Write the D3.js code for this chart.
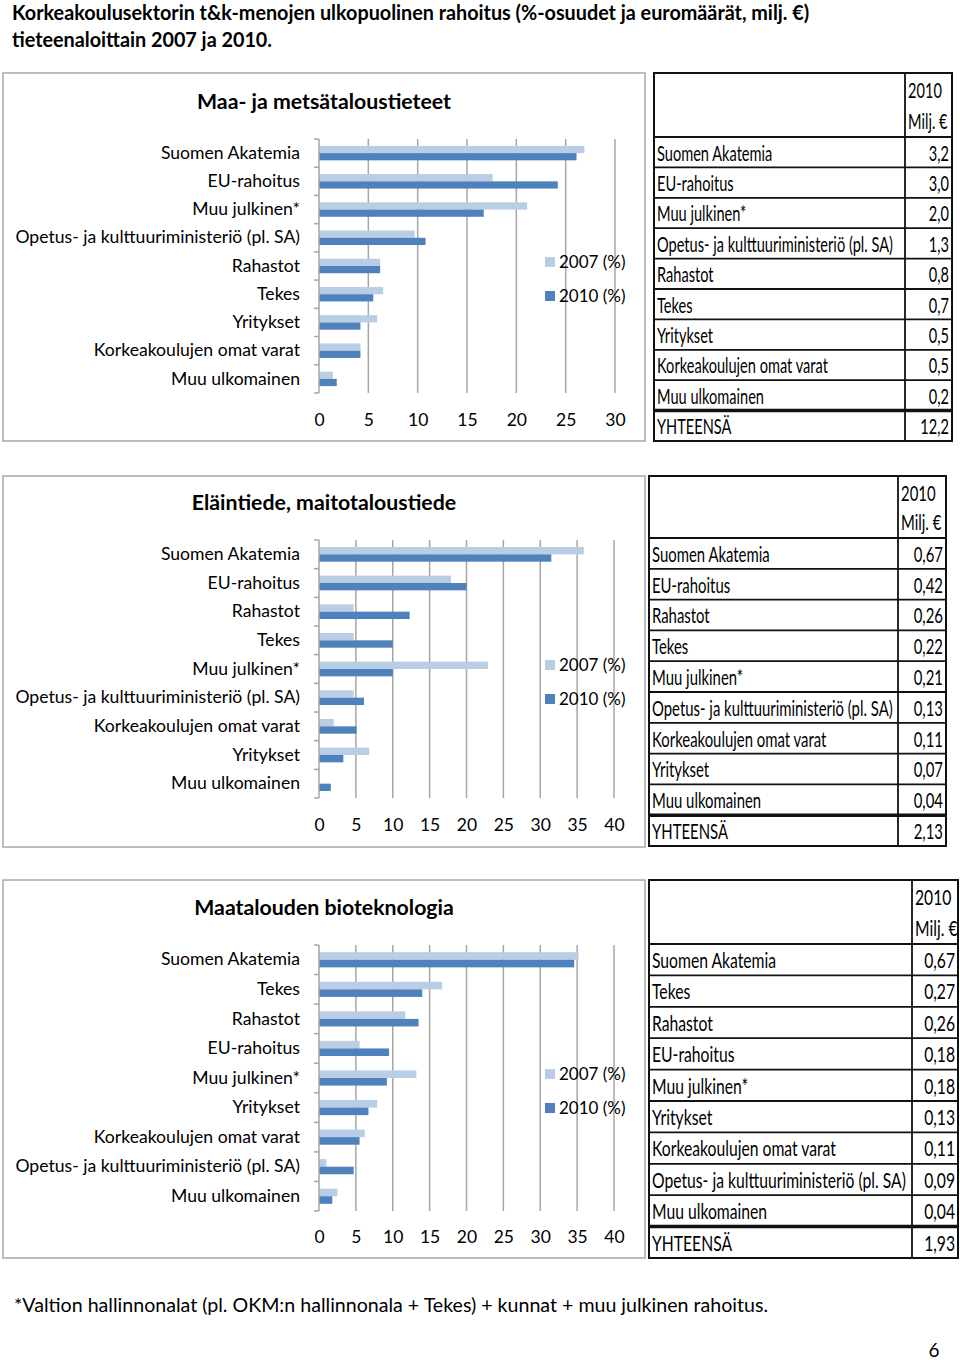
<!DOCTYPE html>
<html><head><meta charset="utf-8">
<script src="https://cdn.jsdelivr.net/npm/d3@7"></script>
<style>
body{margin:0;background:#fff;}
svg{display:block;}
</style></head>
<body>
<script>
// ---------- DATA ----------
const pageTitle1 = "Korkeakoulusektorin t&k-menojen ulkopuolinen rahoitus (%-osuudet ja euromäärät, milj. €)";
const pageTitle2 = "tieteenaloittain 2007 ja 2010.";
const footnote = "*Valtion hallinnonalat (pl. OKM:n hallinnonala + Tekes) + kunnat + muu julkinen rahoitus.";
const pageNumber = "6";
const seriesNames = ["2007 (%)", "2010 (%)"];
const tableHeader = ["2010", "Milj. €"];
const totalLabel = "YHTEENSÄ";

const title1 = "Maa- ja metsätaloustieteet";
const cats1 = ["Suomen Akatemia","EU-rahoitus","Muu julkinen*","Opetus- ja kulttuuriministeriö (pl. SA)","Rahastot","Tekes","Yritykset","Korkeakoulujen omat varat","Muu ulkomainen"];
const p2007_1 = [26.9, 17.6, 21.1, 9.7, 6.2, 6.5, 5.9, 4.2, 1.4];
const p2010_1 = [26.1, 24.2, 16.7, 10.8, 6.2, 5.5, 4.2, 4.2, 1.8];
const milj_1 = [3.2, 3.0, 2.0, 1.3, 0.8, 0.7, 0.5, 0.5, 0.2];
const total_1 = 12.2;
const ticks_1 = [0, 5, 10, 15, 20, 25, 30];

const title2 = "Eläintiede, maitotaloustiede";
const cats2 = ["Suomen Akatemia","EU-rahoitus","Rahastot","Tekes","Muu julkinen*","Opetus- ja kulttuuriministeriö (pl. SA)","Korkeakoulujen omat varat","Yritykset","Muu ulkomainen"];
const p2007_2 = [35.9, 17.9, 4.7, 4.7, 22.9, 4.7, 2.0, 6.8, 0];
const p2010_2 = [31.5, 20.0, 12.3, 10.0, 10.0, 6.1, 5.1, 3.3, 1.6];
const milj_2 = [0.67, 0.42, 0.26, 0.22, 0.21, 0.13, 0.11, 0.07, 0.04];
const total_2 = 2.13;
const ticks_2 = [0, 5, 10, 15, 20, 25, 30, 35, 40];

const title3 = "Maatalouden bioteknologia";
const cats3 = ["Suomen Akatemia","Tekes","Rahastot","EU-rahoitus","Muu julkinen*","Yritykset","Korkeakoulujen omat varat","Opetus- ja kulttuuriministeriö (pl. SA)","Muu ulkomainen"];
const p2007_3 = [35.2, 16.7, 11.7, 5.5, 13.2, 7.9, 6.2, 1.0, 2.5];
const p2010_3 = [34.6, 14.0, 13.5, 9.5, 9.2, 6.7, 5.5, 4.7, 1.8];
const milj_3 = [0.67, 0.27, 0.26, 0.18, 0.18, 0.13, 0.11, 0.09, 0.04];
const total_3 = 1.93;
const ticks_3 = [0, 5, 10, 15, 20, 25, 30, 35, 40];

// ---------- STYLE / LAYOUT ----------
const C2007 = "#b9cde5", C2010 = "#4f81bd", GRID = "#a6a6a6";
const FONT = "Lato, 'Open Sans', sans-serif";
const TFONT = "Lato, 'Open Sans', sans-serif";
const loc = d3.formatLocale({decimal: ",", thousands: " ", grouping: [3], currency: ["", "€"]});

const panels = [
  {title: title1, cats: cats1, a: p2007_1, b: p2010_1, milj: milj_1, total: total_1, ticks: ticks_1, fmt: loc.format(".1f"),
   box: [3, 73, 642, 368], plot: [319, 615, 139, 393], titleY: 102, axisY: 418, legY: 262,
   table: [654, 73, 298, 368], divX: 905, headH: 64, fitGap: 12},
  {title: title2, cats: cats2, a: p2007_2, b: p2010_2, milj: milj_2, total: total_2, ticks: ticks_2, fmt: loc.format(".2f"),
   box: [3, 476, 642, 371], plot: [319, 614, 540, 798], titleY: 503, axisY: 823, legY: 665,
   table: [649, 476, 297, 370], divX: 898, headH: 62, fitGap: 5},
  {title: title3, cats: cats3, a: p2007_3, b: p2010_3, milj: milj_3, total: total_3, ticks: ticks_3, fmt: loc.format(".2f"),
   box: [3, 880, 642, 378], plot: [319, 614, 945, 1211], titleY: 908, axisY: 1235, legY: 1074,
   table: [649, 880, 309, 378], divX: 912, headH: 64, fitGap: 6}
];

const svg = d3.select("body").append("svg").attr("width", 960).attr("height", 1360);

// condensed text helper: draws text at (x,y) squeezed horizontally by factor s
function ctext(parent, x, y, str, size, s, anchor, bold) {
  const t = parent.append("text").attr("transform", `translate(${x},${y}) scale(${s},1)`)
    .attr("dy", "0.35em").attr("font-family", TFONT).attr("font-size", size)
    .attr("text-anchor", anchor || "start").text(str);
  if (bold) t.attr("font-weight", "bold");
  return t;
}

// page title (condensed bold)
{
  const t1 = ctext(svg, 12, 13, pageTitle1, 20, 1, "start", true);
  const s = 798 / t1.node().getComputedTextLength();
  t1.attr("transform", `translate(12,13) scale(${s},1)`);
  ctext(svg, 12, 40, pageTitle2, 20, s, "start", true);
}

panels.forEach(p => {
  const g = svg.append("g");
  const [bx, by, bw, bh] = p.box;
  g.append("rect").attr("x", bx).attr("y", by).attr("width", bw).attr("height", bh)
    .attr("fill", "#fff").attr("stroke", "#a9a9a9").attr("stroke-width", 1.5);

  const [x0, x1, y0, y1] = p.plot;
  const x = d3.scaleLinear().domain([0, d3.max(p.ticks)]).range([x0, x1]);
  const y = d3.scaleBand().domain(p.cats).range([y0, y1]);
  const inner = d3.scaleBand().domain(seriesNames).range([0, y.bandwidth()]).paddingOuter(0.95);

  // gridlines
  g.append("g").selectAll("line").data(p.ticks.filter(t => t > 0)).join("line")
    .attr("x1", d => x(d)).attr("x2", d => x(d)).attr("y1", y0).attr("y2", y1)
    .attr("stroke", GRID).attr("stroke-width", 1.5);

  // bars
  const rows = p.cats.map((c, i) => ({c, v: [p.a[i], p.b[i]]}));
  const rg = g.append("g").selectAll("g").data(rows).join("g")
    .attr("transform", d => `translate(0,${y(d.c)})`);
  rg.selectAll("rect").data(d => d.v.map((v, j) => ({s: seriesNames[j], v}))).join("rect")
    .attr("x", x(0)).attr("y", d => inner(d.s)).attr("height", inner.bandwidth())
    .attr("width", d => x(d.v) - x(0)).attr("fill", (d, j) => j === 0 ? C2007 : C2010);

  // left axis line and boundary ticks
  g.append("line").attr("x1", x0).attr("x2", x0).attr("y1", y0).attr("y2", y1)
    .attr("stroke", GRID).attr("stroke-width", 1.5);
  const bounds = p.cats.map(c => y(c)).concat([y1]);
  g.append("g").selectAll("line").data(bounds).join("line")
    .attr("x1", x0 - 5).attr("x2", x0).attr("y1", d => d).attr("y2", d => d)
    .attr("stroke", GRID).attr("stroke-width", 1.5);

  // category labels
  const ya = g.append("g").attr("transform", `translate(${x0},0)`)
    .call(d3.axisLeft(y).tickSize(0).tickPadding(19));
  ya.select(".domain").remove();
  ya.selectAll("text").attr("font-family", FONT).attr("font-size", 17.6).attr("fill", "#000");

  // x tick labels
  const xa = g.append("g").attr("transform", `translate(0,${p.axisY - 9})`)
    .call(d3.axisBottom(x).tickValues(p.ticks).tickSize(0).tickPadding(0));
  xa.select(".domain").remove();
  xa.selectAll("text").attr("font-family", FONT).attr("font-size", 17.5).attr("fill", "#000").attr("dy", "0.95em");

  // title
  g.append("text").attr("x", 324).attr("y", p.titleY).attr("dy", "0.35em").attr("text-anchor", "middle")
    .attr("font-family", FONT).attr("font-weight", "bold").attr("font-size", 21.3).text(p.title);

  // legend
  seriesNames.forEach((s, j) => {
    const ly = p.legY + j * 34;
    g.append("rect").attr("x", 545).attr("y", ly - 5).attr("width", 10).attr("height", 10)
      .attr("fill", j === 0 ? C2007 : C2010);
    g.append("text").attr("x", 559).attr("y", ly).attr("dy", "0.35em")
      .attr("font-family", FONT).attr("font-size", 17).text(s);
  });

  // table
  const [tx, ty, tw, th] = p.table;
  const tg = svg.append("g");
  const trows = p.cats.map((c, i) => ({label: c, val: p.fmt(p.milj[i])}))
    .concat([{label: totalLabel, val: p.fmt(p.total)}]);
  const ry = d3.scaleBand().domain(d3.range(trows.length)).range([ty + p.headH, ty + th]);

  // determine condensing factor so the longest label fits its column
  const probe = tg.append("text").attr("font-family", TFONT).attr("font-size", 21)
    .text(trows.reduce((a, b) => a.label.length > b.label.length ? a : b).label);
  const sc = (p.divX - tx - 3 - p.fitGap) / probe.node().getComputedTextLength();
  probe.remove();

  ctext(tg, p.divX + 3, ty + p.headH * 0.28, tableHeader[0], 21, sc);
  ctext(tg, p.divX + 3, ty + p.headH * 0.76, tableHeader[1], 21, sc);
  trows.forEach((d, i) => {
    const cy = ry(i) + ry.bandwidth() / 2 + 1;
    ctext(tg, tx + 3, cy, d.label, 21, sc);
    ctext(tg, tx + tw - 3, cy, d.val, 21, sc, "end");
  });

  // row lines
  tg.append("g").selectAll("line").data(d3.range(trows.length)).join("line")
    .attr("x1", tx).attr("x2", tx + tw).attr("y1", i => ry(i)).attr("y2", i => ry(i))
    .attr("stroke", "#111").attr("stroke-width", i => i === trows.length - 1 ? 3.5 : 1.8);
  tg.append("line").attr("x1", p.divX).attr("x2", p.divX).attr("y1", ty).attr("y2", ty + th)
    .attr("stroke", "#111").attr("stroke-width", 1.8);
  tg.append("rect").attr("x", tx).attr("y", ty).attr("width", tw).attr("height", th)
    .attr("fill", "none").attr("stroke", "#111").attr("stroke-width", 2);
});

svg.append("text").attr("x", 14).attr("y", 1305).attr("dy", "0.35em")
  .attr("font-family", FONT).attr("font-size", 19.6).text(footnote);
svg.append("text").attr("x", 934).attr("y", 1350).attr("dy", "0.35em").attr("text-anchor", "middle")
  .attr("font-family", FONT).attr("font-size", 19).text(pageNumber);
</script>
</body></html>
